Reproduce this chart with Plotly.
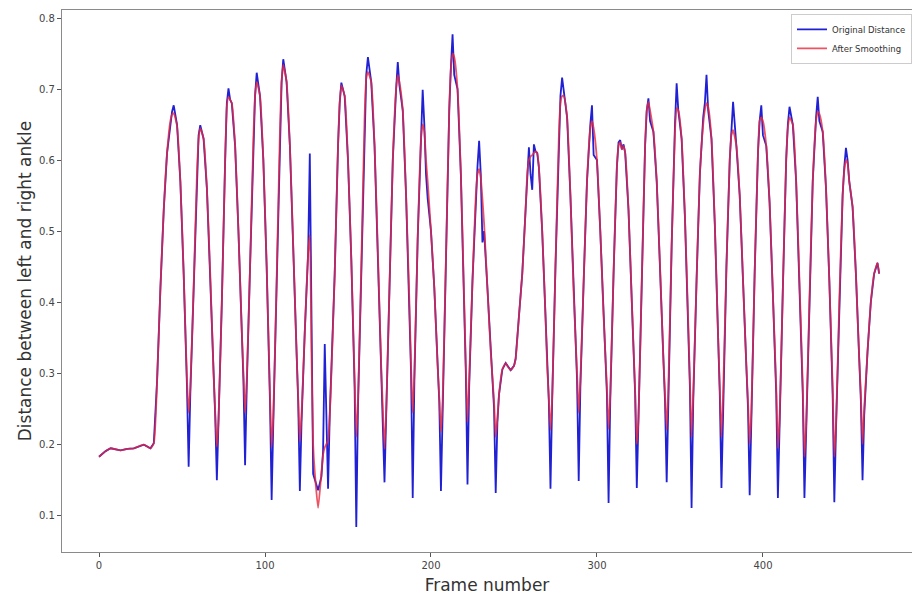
import plotly.graph_objects as go

frames = [
    0, 4, 7, 13, 17, 21, 27, 31, 33, 35, 37, 39, 41, 43, 44, 45, 47, 49, 51, 53, 54,
    55, 57, 59, 60, 61, 63, 65, 67, 69, 70, 71,
    72, 74, 76, 77, 78, 79, 80, 82, 84, 86, 87, 88,
    89, 91, 93, 94, 95, 97, 99, 101, 103, 104,
    105, 107, 109, 110, 111, 113, 115, 117, 119, 120, 121,
    122, 124, 126, 127, 128, 129, 130, 132, 134, 135, 136, 137, 138,
    139, 140, 142, 144, 145, 146, 148, 150, 152, 154, 155,
    156, 158, 160, 161, 162, 164, 166, 168, 170, 171, 172,
    173, 175, 177, 179, 180, 181, 183, 185, 187, 188, 189,
    190, 192, 194, 195, 196, 197, 198, 200, 202, 204, 205, 206,
    207, 209, 211, 212, 213, 214, 216, 218, 220, 221, 222,
    223, 225, 227, 228, 229, 230, 231, 232, 234, 236, 238, 239,
    240, 241, 243, 245, 246, 248, 250, 251, 253, 255, 257, 258, 259, 260, 261, 262, 263, 264, 265, 267, 269, 270, 271, 272,
    273, 275, 277, 278, 279, 280, 282, 284, 286, 288, 289,
    290, 292, 294, 296, 297, 298, 300, 302, 304, 306, 307,
    308, 310, 312, 313, 314, 315, 316, 317, 319, 321, 323, 324,
    325, 327, 329, 330, 331, 332, 334, 336, 338, 340, 341, 342,
    343, 345, 347, 348, 349, 351, 353, 355, 356, 357,
    358, 360, 362, 364, 365, 366, 367, 369, 371, 373, 374, 375,
    376, 378, 380, 381, 382, 384, 386, 388, 390, 391, 392,
    393, 395, 397, 398, 399, 400, 402, 404, 406, 408, 409,
    410, 412, 414, 415, 416, 418, 420, 422, 424, 425,
    426, 428, 430, 432, 433, 434, 436, 438, 440, 442, 443,
    444, 446, 448, 449, 450, 451, 452, 454, 456, 458, 459, 460,
    461, 463, 465, 467, 469, 470,
]

original_distance = [
    0.182, 0.190, 0.194, 0.191, 0.193, 0.194, 0.199, 0.194, 0.201, 0.29, 0.42, 0.53, 0.61, 0.655, 0.668, 0.677, 0.650, 0.57, 0.44, 0.28, 0.168,
    0.27, 0.42, 0.58, 0.635, 0.649, 0.63, 0.56, 0.44, 0.30, 0.24, 0.149,
    0.23, 0.40, 0.60, 0.68, 0.701, 0.685, 0.68, 0.62, 0.50, 0.36, 0.29, 0.170,
    0.28, 0.45, 0.63, 0.69, 0.723, 0.69, 0.60, 0.45, 0.26, 0.121,
    0.23, 0.43, 0.64, 0.71, 0.742, 0.71, 0.62, 0.48, 0.33, 0.26, 0.134,
    0.23, 0.36, 0.47, 0.609, 0.33, 0.158, 0.15, 0.135, 0.154, 0.19, 0.341, 0.22, 0.137,
    0.24, 0.30, 0.44, 0.62, 0.68, 0.709, 0.69, 0.60, 0.46, 0.28, 0.083,
    0.25, 0.45, 0.66, 0.72, 0.745, 0.71, 0.62, 0.47, 0.31, 0.24, 0.146,
    0.24, 0.42, 0.60, 0.70, 0.738, 0.705, 0.67, 0.55, 0.40, 0.30, 0.124,
    0.29, 0.49, 0.64, 0.699, 0.65, 0.58, 0.546, 0.50, 0.42, 0.31, 0.26, 0.134,
    0.25, 0.46, 0.67, 0.73, 0.777, 0.72, 0.70, 0.58, 0.40, 0.30, 0.143,
    0.28, 0.43, 0.55, 0.59, 0.627, 0.58, 0.484, 0.50, 0.42, 0.33, 0.25, 0.131,
    0.23, 0.27, 0.305, 0.314, 0.31, 0.304, 0.31, 0.32, 0.38, 0.44, 0.53, 0.58, 0.618, 0.58, 0.558, 0.622, 0.612, 0.61, 0.59, 0.50, 0.38, 0.31, 0.26, 0.137,
    0.26, 0.45, 0.63, 0.69, 0.716, 0.695, 0.66, 0.55, 0.41, 0.29, 0.148,
    0.28, 0.43, 0.57, 0.65, 0.677, 0.607, 0.60, 0.50, 0.38, 0.27, 0.117,
    0.26, 0.44, 0.59, 0.625, 0.628, 0.615, 0.622, 0.61, 0.53, 0.40, 0.27, 0.138,
    0.23, 0.43, 0.62, 0.67, 0.687, 0.655, 0.64, 0.57, 0.45, 0.32, 0.26, 0.146,
    0.27, 0.48, 0.65, 0.708, 0.67, 0.63, 0.52, 0.37, 0.28, 0.110,
    0.26, 0.43, 0.58, 0.66, 0.68, 0.720, 0.67, 0.63, 0.51, 0.35, 0.27, 0.138,
    0.26, 0.45, 0.60, 0.64, 0.682, 0.62, 0.55, 0.43, 0.31, 0.25, 0.128,
    0.24, 0.44, 0.61, 0.655, 0.677, 0.635, 0.62, 0.54, 0.41, 0.27, 0.124,
    0.23, 0.42, 0.60, 0.65, 0.675, 0.65, 0.57, 0.43, 0.27, 0.124,
    0.22, 0.40, 0.57, 0.66, 0.689, 0.655, 0.64, 0.56, 0.43, 0.27, 0.118,
    0.22, 0.40, 0.55, 0.59, 0.617, 0.60, 0.57, 0.534, 0.44, 0.32, 0.26, 0.149,
    0.24, 0.33, 0.40, 0.44, 0.455, 0.44,
]

after_smoothing = [
    0.182, 0.190, 0.194, 0.191, 0.193, 0.194, 0.199, 0.194, 0.201, 0.29, 0.42, 0.53, 0.61, 0.655, 0.664, 0.666, 0.648, 0.57, 0.44, 0.29, 0.244,
    0.28, 0.42, 0.58, 0.63, 0.645, 0.63, 0.56, 0.44, 0.30, 0.245, 0.196,
    0.235, 0.40, 0.60, 0.675, 0.689, 0.685, 0.68, 0.62, 0.50, 0.36, 0.30, 0.244,
    0.29, 0.45, 0.63, 0.69, 0.710, 0.69, 0.60, 0.45, 0.27, 0.196,
    0.24, 0.43, 0.64, 0.71, 0.734, 0.71, 0.62, 0.48, 0.33, 0.265, 0.204,
    0.24, 0.36, 0.47, 0.494, 0.33, 0.20, 0.16, 0.110, 0.16, 0.185, 0.195, 0.20, 0.205,
    0.24, 0.30, 0.44, 0.62, 0.68, 0.705, 0.69, 0.60, 0.46, 0.29, 0.210,
    0.26, 0.45, 0.66, 0.715, 0.724, 0.71, 0.62, 0.47, 0.31, 0.25, 0.193,
    0.245, 0.42, 0.60, 0.70, 0.720, 0.71, 0.67, 0.55, 0.40, 0.31, 0.244,
    0.30, 0.49, 0.63, 0.650, 0.64, 0.60, 0.57, 0.50, 0.42, 0.31, 0.265, 0.217,
    0.26, 0.46, 0.67, 0.73, 0.750, 0.745, 0.70, 0.58, 0.40, 0.31, 0.231,
    0.29, 0.43, 0.55, 0.58, 0.587, 0.575, 0.545, 0.51, 0.42, 0.33, 0.26, 0.210,
    0.235, 0.27, 0.305, 0.314, 0.31, 0.304, 0.31, 0.32, 0.38, 0.44, 0.53, 0.58, 0.600, 0.605, 0.607, 0.61, 0.612, 0.61, 0.59, 0.50, 0.38, 0.31, 0.265, 0.220,
    0.265, 0.45, 0.63, 0.68, 0.690, 0.69, 0.66, 0.55, 0.41, 0.30, 0.244,
    0.29, 0.43, 0.57, 0.645, 0.655, 0.645, 0.60, 0.50, 0.38, 0.28, 0.221,
    0.27, 0.44, 0.59, 0.62, 0.625, 0.615, 0.62, 0.61, 0.53, 0.40, 0.275, 0.200,
    0.235, 0.43, 0.62, 0.67, 0.682, 0.67, 0.64, 0.57, 0.45, 0.32, 0.27, 0.220,
    0.28, 0.48, 0.64, 0.673, 0.67, 0.63, 0.52, 0.37, 0.29, 0.210,
    0.27, 0.43, 0.58, 0.65, 0.67, 0.680, 0.675, 0.63, 0.51, 0.35, 0.28, 0.210,
    0.27, 0.45, 0.60, 0.635, 0.642, 0.62, 0.55, 0.43, 0.31, 0.26, 0.200,
    0.245, 0.44, 0.61, 0.655, 0.660, 0.655, 0.62, 0.54, 0.41, 0.28, 0.194,
    0.235, 0.42, 0.60, 0.645, 0.660, 0.65, 0.57, 0.43, 0.28, 0.182,
    0.225, 0.40, 0.57, 0.655, 0.668, 0.665, 0.64, 0.56, 0.43, 0.28, 0.182,
    0.225, 0.40, 0.55, 0.585, 0.600, 0.595, 0.57, 0.534, 0.44, 0.32, 0.27, 0.200,
    0.25, 0.33, 0.40, 0.44, 0.455, 0.44,
]

x_tick_values = [0, 100, 200, 300, 400]
y_tick_values = [0.1, 0.2, 0.3, 0.4, 0.5, 0.6, 0.7, 0.8]

fig = go.Figure()
fig.add_trace(go.Scatter(
    x=frames, y=original_distance, mode="lines", name="Original Distance",
    line=dict(color="#2020d4", width=1.8),
))
fig.add_trace(go.Scatter(
    x=frames, y=after_smoothing, mode="lines", name="After Smoothing",
    line=dict(color="rgba(232,40,60,0.8)", width=1.8, shape="spline", smoothing=0.5),
))

axis_common = dict(
    showgrid=False, zeroline=False, showline=True, mirror=True,
    linecolor="#8a8a8a", linewidth=1.2, automargin=False,
    ticks="outside", ticklen=4, tickcolor="#555",
    tickfont=dict(family="DejaVu Sans", size=10, color="#444"),
)

fig.update_layout(
    width=920, height=603,
    margin=dict(l=54, r=16, t=2, b=59, autoexpand=False),
    paper_bgcolor="white", plot_bgcolor="white",
    showlegend=True,
    legend=dict(
        x=1.0, y=0.993, xanchor="right", yanchor="top",
        bgcolor="white", bordercolor="#cccccc", borderwidth=1,
        font=dict(family="DejaVu Sans", size=8.5, color="#333"),
        itemwidth=30, tracegroupgap=0,
    ),
    xaxis=dict(
        range=[-22.3, 489.8], tickvals=x_tick_values,
        title=dict(text="Frame number", font=dict(family="DejaVu Sans", size=17, color="#333"), standoff=9),
        **axis_common,
    ),
    yaxis=dict(
        range=[0.0479, 0.8113], tickvals=y_tick_values,
        title=dict(text="Distance between left and right ankle", font=dict(family="DejaVu Sans", size=17, color="#333"), standoff=3),
        **axis_common,
    ),
)

fig.write_html("out.html")
